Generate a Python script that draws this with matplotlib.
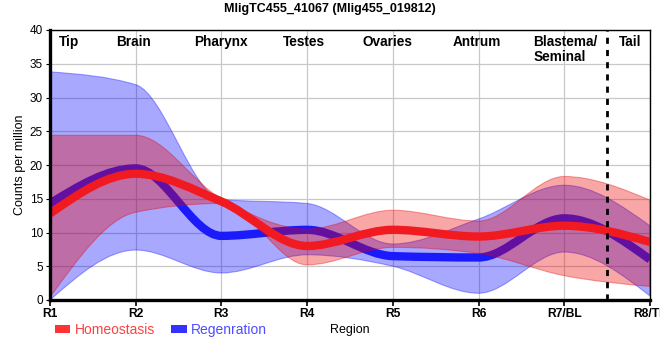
import numpy as np
import matplotlib
matplotlib.use("Agg")
import matplotlib.pyplot as plt
from matplotlib.path import Path
from matplotlib.patches import PathPatch, Patch

plt.rcParams['font.family'] = ['Liberation Sans', 'DejaVu Sans']

# ---- data ----
regions = ["R1", "R2", "R3", "R4", "R5", "R6", "R7/BL", "R8/TL"]
homeo_mean = [12.8, 18.7, 14.6, 8.0, 10.4, 9.4, 11.0, 8.6]
homeo_upper = [24.4, 24.4, 15.0, 10.5, 13.3, 11.7, 18.3, 14.8]
homeo_lower = [0.4, 13.0, 14.3, 5.2, 7.8, 6.9, 3.6, 2.0]
regen_mean = [14.3, 19.5, 9.5, 10.4, 6.5, 6.3, 12.1, 6.0]
regen_upper = [33.8, 31.9, 14.9, 14.3, 8.3, 12.0, 17.0, 11.0]
regen_lower = [0.0, 7.4, 4.0, 6.7, 5.0, 1.0, 7.1, 0.6]
tissue_labels = ["Tip", "Brain", "Pharynx", "Testes", "Ovaries", "Antrum", "Blastema/\nSeminal", "Tail"]
tissue_pos = [0.22, 0.97, 1.99, 2.96, 3.94, 4.98, 5.64, 6.77]
title = "MligTC455_41067 (Mlig455_019812)"

xs = np.arange(len(regions), dtype=float)


def mono_tangents(x, y):
    x = np.asarray(x, float); y = np.asarray(y, float)
    n = len(x)
    t = np.zeros(n)
    for i in range(1, n - 1):
        h0 = x[i] - x[i - 1]; h1 = x[i + 1] - x[i]
        s0 = (y[i] - y[i - 1]) / h0; s1 = (y[i + 1] - y[i]) / h1
        p = (s0 * h1 + s1 * h0) / (h0 + h1)
        t[i] = (np.sign(s0) + np.sign(s1)) * min(abs(s0), abs(s1), 0.5 * abs(p))
    h = x[1] - x[0]
    t[0] = (3 * (y[1] - y[0]) / h - t[1]) / 2
    h = x[-1] - x[-2]
    t[-1] = (3 * (y[-1] - y[-2]) / h - t[-2]) / 2
    return t


def mono_vertices(x, y):
    t = mono_tangents(x, y)
    verts = [(x[0], y[0])]
    for i in range(len(x) - 1):
        dx = (x[i + 1] - x[i]) / 3
        verts += [(x[i] + dx, y[i] + dx * t[i]),
                  (x[i + 1] - dx, y[i + 1] - dx * t[i + 1]),
                  (x[i + 1], y[i + 1])]
    return verts


def curve_path(x, y):
    v = mono_vertices(x, y)
    codes = [Path.MOVETO] + [Path.CURVE4] * (len(v) - 1)
    return Path(v, codes)


def band_path(x, lo, hi):
    vu = mono_vertices(x, hi)
    vl = mono_vertices(x, lo)[::-1]
    verts = vu + vl + [vu[0]]
    codes = ([Path.MOVETO] + [Path.CURVE4] * (len(vu) - 1) +
             [Path.LINETO] + [Path.CURVE4] * (len(vl) - 1) + [Path.CLOSEPOLY])
    return Path(verts, codes)


fig = plt.figure(figsize=(6.6, 3.6), dpi=100)
ax = fig.add_axes([50 / 660, 1 - 300 / 360, 600 / 660, 270 / 360])
ax.set_xlim(0, 7)
ax.set_ylim(0, 40)

ax.set_yticks(np.arange(0, 41, 5))
ax.set_xticks(xs)
ax.set_xticklabels(regions, fontweight='bold', fontsize=8.7)
ax.tick_params(axis='y', labelsize=8.5, length=3, width=0.8, pad=2)
ax.tick_params(axis='x', length=4, width=1.2, pad=2)
ax.grid(True, color='#c8c8c8', linewidth=0.9)
ax.set_axisbelow(True)
for s in ['left', 'bottom']:
    ax.spines[s].set_linewidth(2.4)
for s in ['top', 'right']:
    ax.spines[s].set_linewidth(1.0)
for s in ax.spines.values():
    s.set_zorder(10)

blue = (0.0, 0.0, 1.0)
red = (0.92, 0.0, 0.0)

ax.add_patch(PathPatch(band_path(xs, regen_lower, regen_upper), facecolor=blue,
                       alpha=0.34, edgecolor=(0, 0, 1, 0.25), lw=0.8, zorder=2))
ax.add_patch(PathPatch(curve_path(xs, regen_mean), fill=False, edgecolor=(0.1, 0.1, 0.98),
                       lw=6.0, capstyle='butt', zorder=3))
ax.add_patch(PathPatch(band_path(xs, homeo_lower, homeo_upper), facecolor=red,
                       alpha=0.35, edgecolor=(0.9, 0, 0, 0.25), lw=0.8, zorder=4))
ax.add_patch(PathPatch(curve_path(xs, homeo_mean), fill=False, edgecolor=(0.95, 0.1, 0.13),
                       lw=6.0, capstyle='butt', zorder=5))

ax.axvline(6.5, color='black', lw=2.0, linestyle=(0, (2.2, 2.2)), zorder=6)

for lab, p in zip(tissue_labels, tissue_pos):
    if '\n' in lab:
        ax.text(p, 39.3, lab, ha='left', va='top', fontsize=9.8, fontweight='bold',
                linespacing=1.1, zorder=7)
    else:
        ax.text(p, 39.3, lab, ha='center', va='top', fontsize=9.8, fontweight='bold', zorder=7)

fig.text(0.5, 1 - 9 / 360, title, ha='center', va='center', fontsize=9, fontweight='bold')
fig.text(20 / 660, 1 - 165 / 360, "Counts per million", rotation=90, ha='center',
         va='center', fontsize=9)
fig.text(350 / 660, 1 - 330 / 360, "Region", ha='center', va='center', fontsize=9)

handles = [Patch(facecolor='#ff3333', edgecolor='none'), Patch(facecolor='#3333ff', edgecolor='none')]
leg = fig.legend(handles, ["Homeostasis", "Regenration"], ncol=2, frameon=False,
                 loc='center left', bbox_to_anchor=(55 / 660, 1 - 330 / 360),
                 fontsize=10, handlelength=1.1, handleheight=0.5, handletextpad=0.3,
                 columnspacing=1.2, borderaxespad=0, borderpad=0)
for txt, c in zip(leg.get_texts(), ['#ff4040', '#4d4dff']):
    txt.set_color(c)

fig.savefig("out.png", dpi=100)
